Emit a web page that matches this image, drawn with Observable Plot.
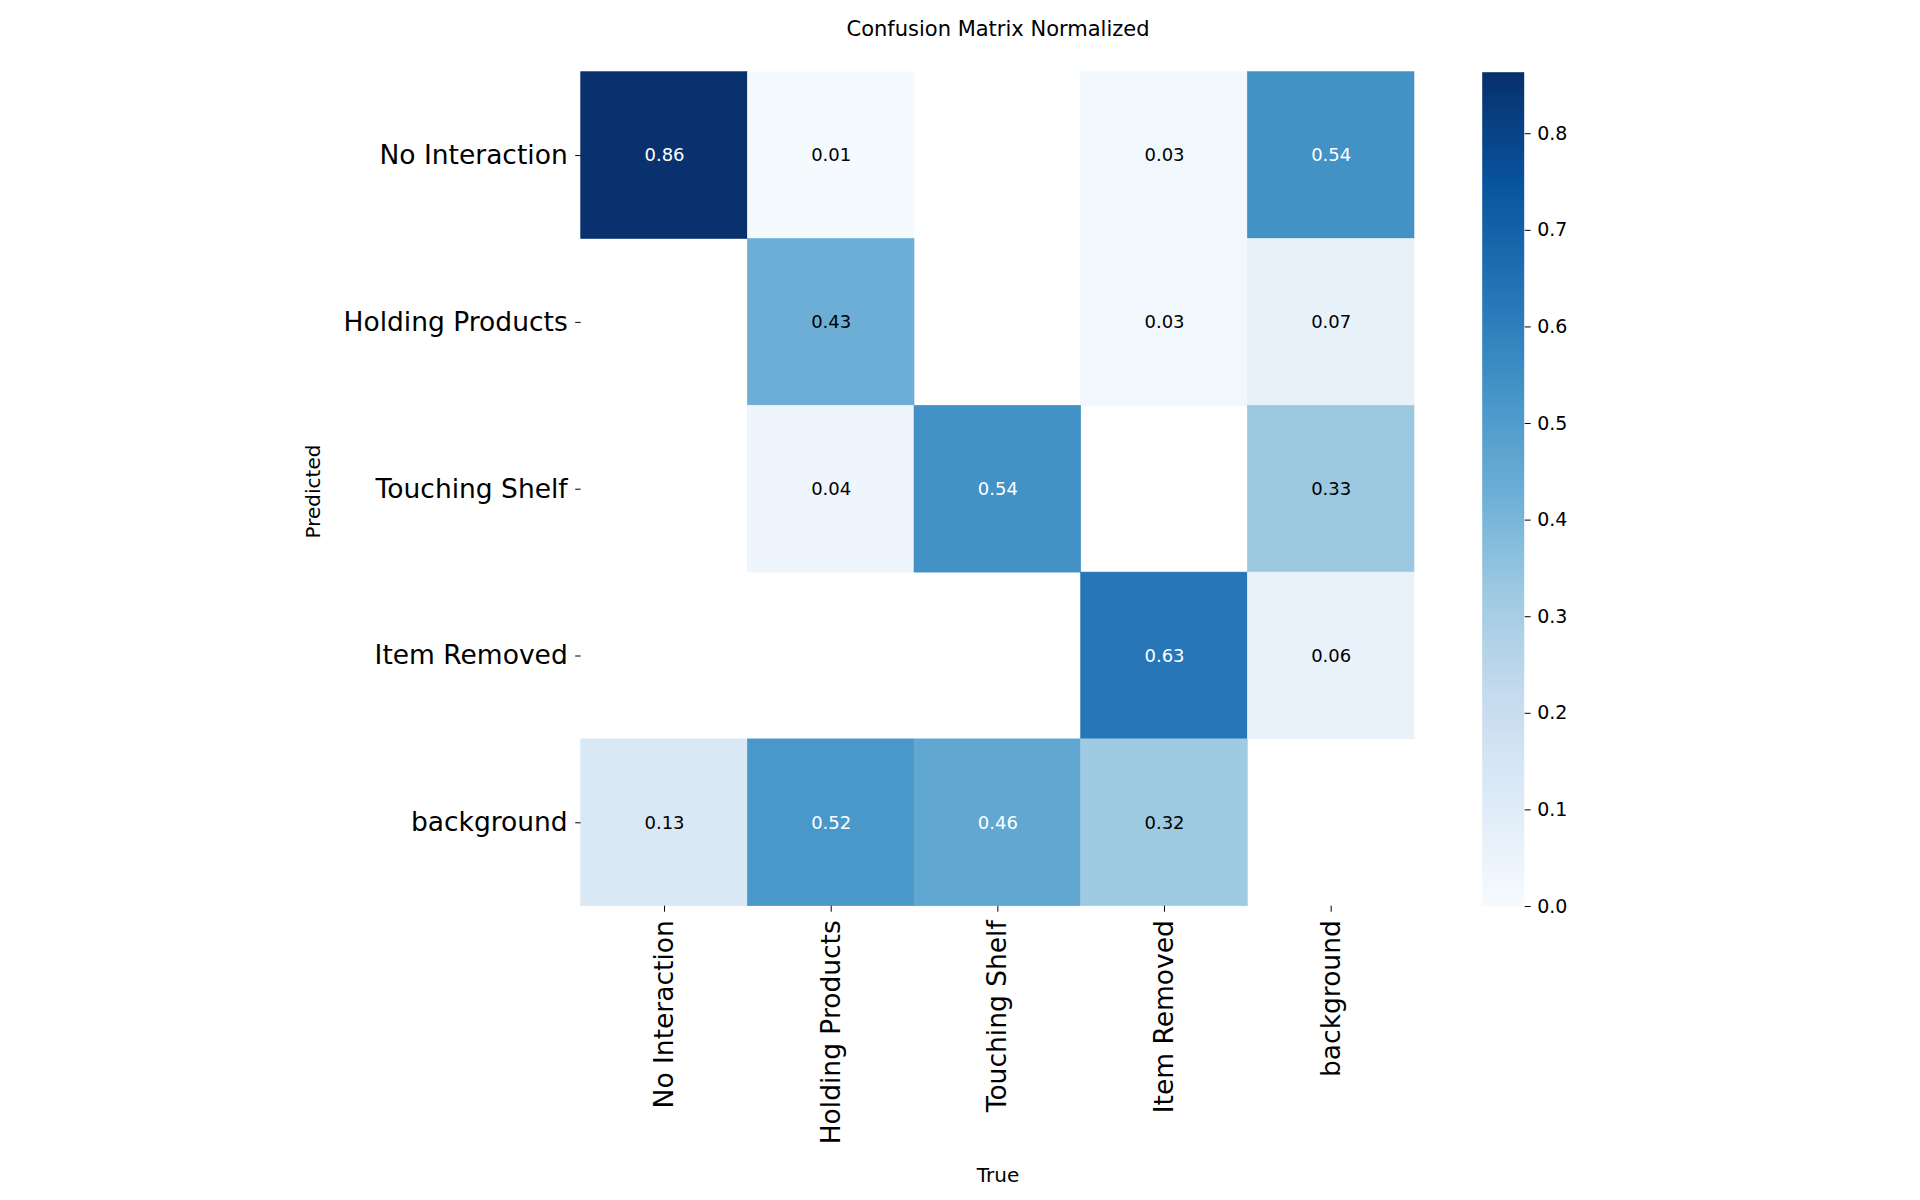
<!DOCTYPE html>
<html><head><meta charset="utf-8">
<script src="https://cdn.jsdelivr.net/npm/d3@7"></script>
<script src="https://cdn.jsdelivr.net/npm/@observablehq/plot@0.6"></script>
<style>
html,body{margin:0;padding:0;background:#fff;}
#root{position:relative;width:1920px;height:1200px;font-family:"DejaVu Sans",sans-serif;color:#000;overflow:hidden;}
#root > *{position:absolute;}
</style></head><body><div id="root"></div>
<script>
// ---- data ----
const predictedLabels = ["No Interaction","Holding Products","Touching Shelf","Item Removed","background"];
const trueLabels = ["No Interaction","Holding Products","Touching Shelf","Item Removed","background"];
const rowNoInteraction   = [0.86, 0.01, 0.00, 0.03, 0.54];
const rowHoldingProducts = [0.00, 0.43, 0.00, 0.03, 0.07];
const rowTouchingShelf   = [0.00, 0.04, 0.54, 0.00, 0.33];
const rowItemRemoved     = [0.00, 0.00, 0.00, 0.63, 0.06];
const rowBackground      = [0.13, 0.52, 0.46, 0.32, 0.00];
const colorbarTicks = [0, 0.1, 0.2, 0.3, 0.4, 0.5, 0.6, 0.7, 0.8];
const vmax = 0.8637;
const blues = ["#f7fbff","#deebf7","#c6dbef","#9ecae1","#6baed6","#4292c6","#2171b5","#08519c","#08306b"];

const rows = [rowNoInteraction, rowHoldingProducts, rowTouchingShelf, rowItemRemoved, rowBackground];
const cells = [];
predictedLabels.forEach((p, i) => rows[i].forEach((v, j) => cells.push({pred: p, tru: trueLabels[j], value: v})));
const shown = cells.filter(d => d.value > 0.005);

const colorOpts = {type: "linear", domain: blues.map((_, i) => i * vmax / (blues.length - 1)), range: blues, interpolate: "rgb"};
const font = "DejaVu Sans";
const root = document.getElementById("root");

const main = Plot.plot({
  width: 1920, height: 1200,
  marginLeft: 580.7, marginRight: 506, marginTop: 71.7, marginBottom: 294.3,
  style: {fontFamily: font, background: "transparent", color: "#000"},
  x: {domain: trueLabels, padding: 0, round: false, axis: null},
  y: {domain: predictedLabels, padding: 0, round: false, axis: null},
  color: colorOpts,
  marks: [
    Plot.cell(shown, {x: "tru", y: "pred", fill: "value", stroke: "value", strokeWidth: 0.6}),
    Plot.text(shown.filter(d => d.value <= 0.445), {x: "tru", y: "pred", text: d => d.value.toFixed(2), fill: "#000", fontSize: 18}),
    Plot.text(shown.filter(d => d.value > 0.445), {x: "tru", y: "pred", text: d => d.value.toFixed(2), fill: "#fff", fontSize: 18}),
    Plot.axisX({anchor: "bottom", tickRotate: -90, tickSize: 6, tickPadding: 8, fontSize: 26.5, label: null, stroke: "#000", fill: "#000"}),
    Plot.axisY({anchor: "left", tickSize: 5.5, tickPadding: 8, fontSize: 26.5, label: null, stroke: "#000", fill: "#000"})
  ]
});
main.style.left = "0px"; main.style.top = "0px";
root.appendChild(main);

const cbar = Plot.plot({
  width: 200, height: 1200,
  marginLeft: 11.7, marginRight: 146.3, marginTop: 71.7, marginBottom: 294,
  style: {fontFamily: font, background: "transparent", color: "#000"},
  x: {domain: [0, 1], axis: null},
  y: {domain: [0, vmax], axis: null},
  color: colorOpts,
  marks: [
    Plot.raster({x1: 0, x2: 1, y1: 0, y2: vmax, width: 1, height: 500, fill: (x, y) => y, imageRendering: "auto"}),
    Plot.axisY({anchor: "right", ticks: colorbarTicks, tickFormat: d3.format(".1f"), tickSize: 6, tickPadding: 7, fontSize: 19, label: null, stroke: "#000", fill: "#000"})
  ]
});
cbar.style.left = "1470px"; cbar.style.top = "0px";
root.appendChild(cbar);

// titles and axis labels
const ns = "http://www.w3.org/2000/svg";
const overlay = document.createElementNS(ns, "svg");
overlay.setAttribute("width", 1920); overlay.setAttribute("height", 1200);
overlay.style.left = "0px"; overlay.style.top = "0px"; overlay.style.pointerEvents = "none";
function addText(str, x, y, size, rotate) {
  const t = document.createElementNS(ns, "text");
  t.textContent = str;
  t.setAttribute("text-anchor", "middle");
  t.setAttribute("font-family", font);
  t.setAttribute("font-size", size);
  t.setAttribute("fill", "#000");
  t.setAttribute("transform", `translate(${x},${y})` + (rotate ? ` rotate(${rotate})` : ""));
  overlay.appendChild(t);
}
addText("Confusion Matrix Normalized", 998, 36, 21);
addText("True", 998, 1181.5, 20);
addText("Predicted", 320, 491.5, 20, -90);
root.appendChild(overlay);
</script></body></html>
